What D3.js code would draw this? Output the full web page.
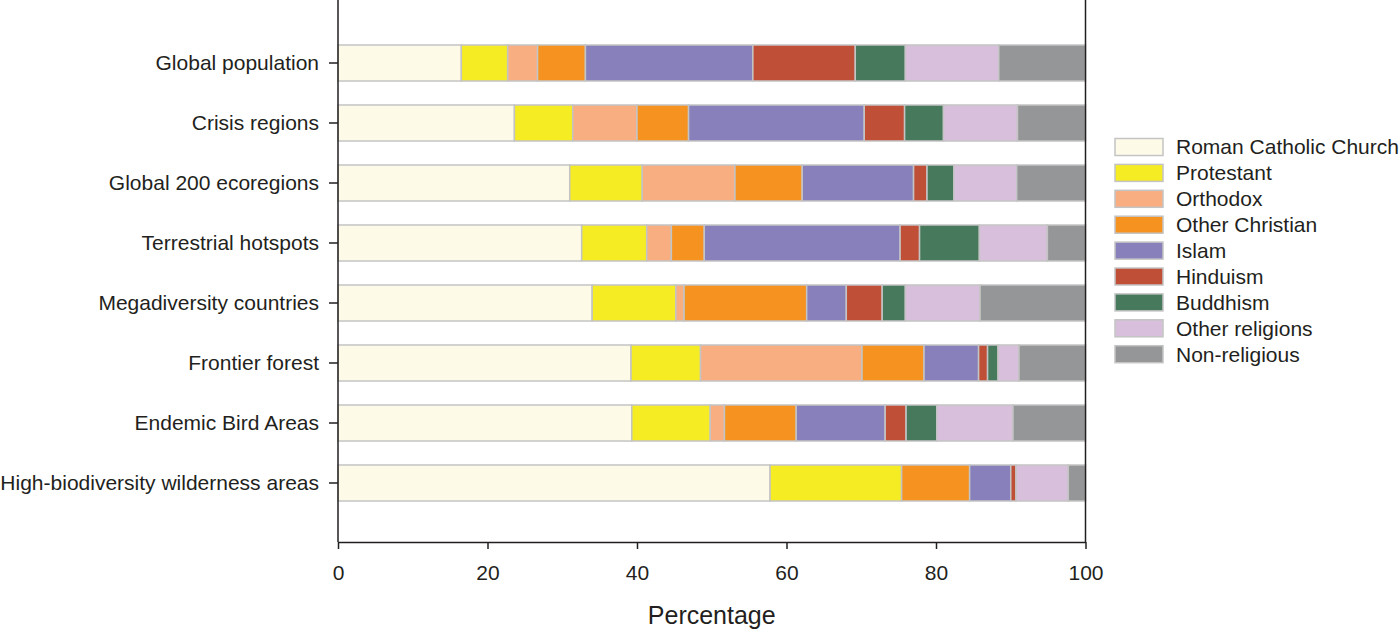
<!DOCTYPE html>
<html>
<head>
<meta charset="utf-8">
<script src="https://cdn.jsdelivr.net/npm/d3@7"></script>
<style>
  body { margin: 0; background: #fff; }
  svg { display: block; font-family: "Liberation Sans", Arial, sans-serif; }
</style>
</head>
<body>
<div id="chart"></div>
<script>
// categories (top to bottom)
const regions = [
  "Global population",
  "Crisis regions",
  "Global 200 ecoregions",
  "Terrestrial hotspots",
  "Megadiversity countries",
  "Frontier forest",
  "Endemic Bird Areas",
  "High-biodiversity wilderness areas"
];

const religions = [
  "Roman Catholic Church", "Protestant", "Orthodox", "Other Christian",
  "Islam", "Hinduism", "Buddhism", "Other religions", "Non-religious"
];

const religionColors = [
  "#fdfbe8", "#f6ec23", "#f9ae82", "#f6921f",
  "#8780ba", "#c04f37", "#477a5c", "#d8c0dc", "#959697"
];

// percentage share per region, in religion order
const globalPopulation   = [16.5, 6.2, 4.0, 6.4, 22.4, 13.7, 6.7, 12.5, 11.6];
const crisisRegions      = [23.6, 7.8, 8.6, 6.9, 23.5, 5.4, 5.2, 9.9, 9.1];
const global200          = [31.0, 9.7, 12.4, 9.0, 14.9, 1.8, 3.6, 8.4, 9.2];
const terrestrialHotspot = [32.6, 8.7, 3.3, 4.4, 26.2, 2.6, 8.0, 9.1, 5.1];
const megadiversity      = [34.0, 11.2, 1.1, 16.4, 5.3, 4.8, 3.1, 10.0, 14.1];
const frontierForest     = [39.2, 9.3, 21.6, 8.3, 7.3, 1.2, 1.4, 2.8, 8.9];
const endemicBirdAreas   = [39.3, 10.5, 1.9, 9.6, 11.9, 2.8, 4.1, 10.2, 9.7];
const wildernessAreas    = [57.8, 17.6, 0.0, 9.1, 5.5, 0.7, 0.0, 7.0, 2.3];

const shares = [
  globalPopulation, crisisRegions, global200, terrestrialHotspot,
  megadiversity, frontierForest, endemicBirdAreas, wildernessAreas
];

const xTicks = [0, 20, 40, 60, 80, 100];

const width = 1400, height = 633;
const left = 338, right = 1085.5, bottom = 542;
const ink = "#231f20";

const svg = d3.select("#chart").append("svg")
  .attr("width", width)
  .attr("height", height);

const x = d3.scaleLinear().domain([0, 100]).range([left, right]);
const y = d3.scaleBand().domain(regions).range([33, 513])
  .paddingInner(0.4).paddingOuter(0.2);

// stack the data
const rows = regions.map((r, i) => {
  const o = { region: r };
  religions.forEach((g, j) => { o[g] = shares[i][j]; });
  return o;
});
const series = d3.stack().keys(religions)(rows);
const color = d3.scaleOrdinal().domain(religions).range(religionColors);

// bars
svg.append("g").selectAll("g")
  .data(series)
  .join("g")
  .attr("fill", d => color(d.key))
  .selectAll("rect")
  .data(d => d.filter(s => s[1] - s[0] > 0))
  .join("rect")
  .attr("x", d => x(d[0]))
  .attr("y", d => y(d.data.region))
  .attr("width", d => x(d[1]) - x(d[0]))
  .attr("height", y.bandwidth())
  .attr("stroke", "#c4c4c4")
  .attr("stroke-width", 1.5);

// frame (right side)
svg.append("line")
  .attr("x1", right).attr("x2", right)
  .attr("y1", 0).attr("y2", bottom)
  .attr("stroke", ink).attr("stroke-width", 1.5);

// x axis
const xAxis = svg.append("g")
  .attr("transform", `translate(0,${bottom})`)
  .call(d3.axisBottom(x).tickValues(xTicks).tickSize(7).tickPadding(16).tickSizeOuter(0));
xAxis.select(".domain").attr("stroke", ink).attr("stroke-width", 1.5);
xAxis.selectAll(".tick line").attr("stroke", ink).attr("stroke-width", 1.5);
xAxis.selectAll("text").attr("font-size", 21).attr("fill", ink);

// y axis
const yAxis = svg.append("g")
  .attr("transform", `translate(${left},0)`)
  .call(d3.axisLeft(y).tickSize(9).tickPadding(10).tickSizeOuter(0));
yAxis.select(".domain").attr("d", `M0,0V${bottom}`)
  .attr("stroke", ink).attr("stroke-width", 1.5);
yAxis.selectAll(".tick line").attr("stroke", ink).attr("stroke-width", 1.5);
yAxis.selectAll("text").attr("font-size", 21).attr("fill", ink);

// x label
svg.append("text")
  .attr("x", (left + right) / 2)
  .attr("y", 624)
  .attr("text-anchor", "middle")
  .attr("font-size", 25)
  .attr("fill", ink)
  .text("Percentage");

// legend
const legend = svg.append("g").selectAll("g")
  .data(religions)
  .join("g")
  .attr("transform", (d, i) => `translate(1115,${147 + i * 25.9})`);

legend.append("rect")
  .attr("x", 0).attr("y", -8.5)
  .attr("width", 48).attr("height", 17)
  .attr("fill", d => color(d))
  .attr("stroke", "#c4c4c4")
  .attr("stroke-width", 1.5);

legend.append("text")
  .attr("x", 61)
  .attr("dy", "0.35em")
  .attr("font-size", 21)
  .attr("fill", ink)
  .text(d => d);
</script>
</body>
</html>
